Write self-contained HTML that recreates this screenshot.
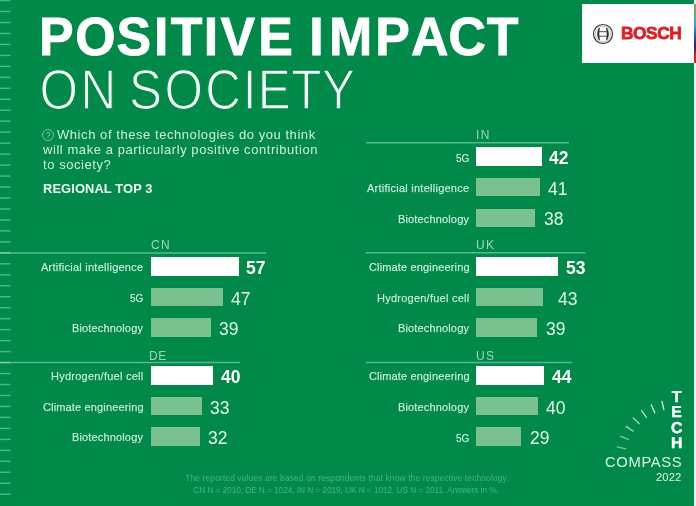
<!DOCTYPE html>
<html lang="en"><head><meta charset="utf-8"><title>Positive impact on society</title>
<style>
html,body{margin:0;padding:0}
body{width:696px;height:506px;overflow:hidden;background:#01894a;position:relative;font-family:"Liberation Sans",sans-serif;color:#fff}
.a{position:absolute;white-space:nowrap;line-height:1;will-change:transform}
.t1{left:38.6px;top:8.5px;font-size:49px;font-weight:700;letter-spacing:1.6px;word-spacing:-6.5px;transform-origin:0 0;transform:scale(1.085,1.11)}
.t2{left:40px;top:60.9px;font-size:48px;font-weight:400;letter-spacing:2.2px;-webkit-text-stroke:1.7px #01894a;transform-origin:0 0;transform:scale(1,1.19)}
.q{left:43px;top:127.0px;font-size:13px;line-height:15px;letter-spacing:.56px;color:rgba(240,255,247,.86);white-space:normal;width:300px}
.q .ind{display:inline-block;width:14px}
.qi{left:41.9px;top:129.2px;width:10.1px;height:10.1px;border:1.05px solid rgba(190,255,220,.55);border-radius:50%;font-size:8.6px;line-height:10.4px;text-align:center;color:rgba(200,255,225,.6)}
.rt{left:43px;top:183.0px;font-size:12.9px;font-weight:700;letter-spacing:.1px;color:#f2fbf5}
.cc{font-size:12px;letter-spacing:1.4px;color:rgba(255,255,255,.62)}
.ln{position:absolute;height:1.6px;background:rgba(205,255,228,.4)}
.lb{font-size:11px;letter-spacing:.15px;color:rgba(235,255,245,.84);-webkit-text-stroke:.25px rgba(235,255,245,.5);text-align:right}
.lb.s{font-size:10px;letter-spacing:0}
.bar{position:absolute;height:18.3px;background:#7ac18f}
.bar.w{background:#fff}
.v{font-size:17.5px;color:#e2f6ea}
.v.b{font-weight:700;color:#fff}
.ft{font-size:8.4px;color:rgba(200,255,222,.34);text-align:center;letter-spacing:.05px}
.logo{position:absolute;left:582px;top:4px;width:112.4px;height:59.4px;background:#fff}
.edge{position:absolute;left:694.35px;top:0;width:1.65px;height:506px;background:#e8faf1}
.strip{position:absolute;left:694.35px;top:4px;width:1.65px;height:59.4px;background:linear-gradient(#7aa873 0,#6fa873 17%,#45b5aa 24%,#2aa3d2 37%,#1f62b2 52%,#2a2366 70%,#7a2044 80%,#d02030 87%,#d8222a 100%)}
.bosch{left:621.4px;top:25.1px;font-size:17.3px;font-weight:700;color:#dc1f26;letter-spacing:-.42px;-webkit-text-stroke:.8px #dc1f26}
.tech{text-rendering:geometricPrecision;font-size:15.8px;font-weight:700;color:#fff;text-align:center;width:16px}
.comp{left:605.4px;top:455.0px;font-size:14.8px;letter-spacing:.62px;color:#dcf3e6}
.yr{left:656.4px;top:472.0px;font-size:11.2px;letter-spacing:.1px;color:#dcf3e6}

</style></head><body>
<svg class="a" style="left:0;top:0" width="12" height="506" viewBox="0 0 12 506">
<g stroke="#c8ffe0" stroke-opacity=".38" stroke-width="1.5">
<line x1="0" y1="0.55" x2="10.5" y2="0.55"/>
<line x1="0" y1="11.52" x2="10.5" y2="11.52"/>
<line x1="0" y1="22.49" x2="10.5" y2="22.49"/>
<line x1="0" y1="33.46" x2="10.5" y2="33.46"/>
<line x1="0" y1="44.43" x2="10.5" y2="44.43"/>
<line x1="0" y1="55.40" x2="10.5" y2="55.40"/>
<line x1="0" y1="66.37" x2="10.5" y2="66.37"/>
<line x1="0" y1="77.34" x2="10.5" y2="77.34"/>
<line x1="0" y1="88.31" x2="10.5" y2="88.31"/>
<line x1="0" y1="99.28" x2="10.5" y2="99.28"/>
<line x1="0" y1="110.25" x2="10.5" y2="110.25"/>
<line x1="0" y1="121.22" x2="10.5" y2="121.22"/>
<line x1="0" y1="132.19" x2="10.5" y2="132.19"/>
<line x1="0" y1="143.16" x2="10.5" y2="143.16"/>
<line x1="0" y1="154.13" x2="10.5" y2="154.13"/>
<line x1="0" y1="165.10" x2="10.5" y2="165.10"/>
<line x1="0" y1="176.07" x2="10.5" y2="176.07"/>
<line x1="0" y1="187.04" x2="10.5" y2="187.04"/>
<line x1="0" y1="198.01" x2="10.5" y2="198.01"/>
<line x1="0" y1="208.98" x2="10.5" y2="208.98"/>
<line x1="0" y1="219.95" x2="10.5" y2="219.95"/>
<line x1="0" y1="230.92" x2="10.5" y2="230.92"/>
<line x1="0" y1="241.89" x2="10.5" y2="241.89"/>
<line x1="0" y1="252.86" x2="10.5" y2="252.86"/>
<line x1="0" y1="263.83" x2="10.5" y2="263.83"/>
<line x1="0" y1="274.80" x2="10.5" y2="274.80"/>
<line x1="0" y1="285.77" x2="10.5" y2="285.77"/>
<line x1="0" y1="296.74" x2="10.5" y2="296.74"/>
<line x1="0" y1="307.71" x2="10.5" y2="307.71"/>
<line x1="0" y1="318.68" x2="10.5" y2="318.68"/>
<line x1="0" y1="329.65" x2="10.5" y2="329.65"/>
<line x1="0" y1="340.62" x2="10.5" y2="340.62"/>
<line x1="0" y1="351.59" x2="10.5" y2="351.59"/>
<line x1="0" y1="362.56" x2="10.5" y2="362.56"/>
<line x1="0" y1="373.53" x2="10.5" y2="373.53"/>
<line x1="0" y1="384.50" x2="10.5" y2="384.50"/>
<line x1="0" y1="395.47" x2="10.5" y2="395.47"/>
<line x1="0" y1="406.44" x2="10.5" y2="406.44"/>
<line x1="0" y1="417.41" x2="10.5" y2="417.41"/>
<line x1="0" y1="428.38" x2="10.5" y2="428.38"/>
<line x1="0" y1="439.35" x2="10.5" y2="439.35"/>
<line x1="0" y1="450.32" x2="10.5" y2="450.32"/>
<line x1="0" y1="461.29" x2="10.5" y2="461.29"/>
<line x1="0" y1="472.26" x2="10.5" y2="472.26"/>
<line x1="0" y1="483.23" x2="10.5" y2="483.23"/>
<line x1="0" y1="494.20" x2="10.5" y2="494.20"/>
</g></svg>
<svg class="a" style="left:0;top:0" width="560" height="120" viewBox="0 0 560 120" font-family="Liberation Sans, sans-serif">
<text transform="translate(0,55) scale(1.06,1.10)" text-rendering="geometricPrecision" x="36.9 70.9 109.9 145.3 161.0 192.3 208.0 243.6 273.6 291.7 310.3 354.1 387.8 423.1 459.2" y="0" font-size="49" font-weight="700" fill="#fff" stroke="#fff" stroke-width="0.7">POSITIVE IMPACT</text>
<text transform="translate(0,109) scale(1.03,1.176)" text-rendering="geometricPrecision" x="38.3 78.1 110.7 125.2 159.8 199.2 235.6 250.3 282.7 312.6" y="0" font-size="48" fill="#f4fff9" stroke="#01894a" stroke-width="1.1">ON SOCIETY</text>
</svg>
<div class="a qi">?</div>
<div class="a q"><span class="ind"></span>Which of these technologies do you think<br>will make a particularly positive contribution<br>to society?</div>
<div class="a rt">REGIONAL TOP 3</div>
<div class="a cc" style="left:150.7px;top:238.8px">CN</div>
<div class="a lb" style="right:552.7px;top:262.2px;letter-spacing:.25px">Artificial intelligence</div>
<div class="bar w" style="left:150.7px;top:257.3px;width:88.1px"></div>
<div class="a v b" style="left:246.4px;top:260.1px">57</div>
<div class="a lb s" style="right:552.7px;top:294.0px">5G</div>
<div class="bar" style="left:150.7px;top:287.9px;width:72.4px"></div>
<div class="a v" style="left:231.3px;top:290.7px">47</div>
<div class="a lb" style="right:552.7px;top:323.3px">Biotechnology</div>
<div class="bar" style="left:150.7px;top:318.4px;width:60.3px"></div>
<div class="a v" style="left:218.9px;top:321.2px">39</div>
<div class="a cc" style="left:149.1px;top:349.6px;letter-spacing:.7px">DE</div>
<div class="a lb" style="right:552.7px;top:371.3px;letter-spacing:.24px">Hydrogen/fuel cell</div>
<div class="bar w" style="left:150.7px;top:366.4px;width:62.2px"></div>
<div class="a v b" style="left:220.7px;top:369.2px">40</div>
<div class="a lb" style="right:552.7px;top:401.8px">Climate engineering</div>
<div class="bar" style="left:150.7px;top:396.9px;width:51.2px"></div>
<div class="a v" style="left:209.5px;top:399.7px">33</div>
<div class="a lb" style="right:552.7px;top:432.3px">Biotechnology</div>
<div class="bar" style="left:150.7px;top:427.4px;width:49.2px"></div>
<div class="a v" style="left:207.8px;top:430.2px">32</div>
<div class="a cc" style="left:476.2px;top:128.8px">IN</div>
<div class="a lb s" style="right:226.7px;top:153.5px">5G</div>
<div class="bar w" style="left:476.2px;top:147.3px;width:65.4px"></div>
<div class="a v b" style="left:549.4px;top:150.1px">42</div>
<div class="a lb" style="right:226.7px;top:183.0px;letter-spacing:.25px">Artificial intelligence</div>
<div class="bar" style="left:476.2px;top:178.0px;width:63.7px"></div>
<div class="a v" style="left:548.4px;top:180.8px">41</div>
<div class="a lb" style="right:226.7px;top:213.6px">Biotechnology</div>
<div class="bar" style="left:476.2px;top:208.6px;width:59.2px"></div>
<div class="a v" style="left:543.6px;top:211.4px">38</div>
<div class="a cc" style="left:476.2px;top:238.8px">UK</div>
<div class="a lb" style="right:226.7px;top:262.2px">Climate engineering</div>
<div class="bar w" style="left:476.2px;top:257.3px;width:82.1px"></div>
<div class="a v b" style="left:565.5px;top:260.1px">53</div>
<div class="a lb" style="right:226.7px;top:292.9px;letter-spacing:.24px">Hydrogen/fuel cell</div>
<div class="bar" style="left:476.2px;top:288.0px;width:66.6px"></div>
<div class="a v" style="left:557.8px;top:290.8px">43</div>
<div class="a lb" style="right:226.7px;top:323.3px">Biotechnology</div>
<div class="bar" style="left:476.2px;top:318.4px;width:60.7px"></div>
<div class="a v" style="left:545.9px;top:321.2px">39</div>
<div class="a cc" style="left:476.2px;top:349.7px">US</div>
<div class="a lb" style="right:226.7px;top:371.3px">Climate engineering</div>
<div class="bar w" style="left:476.2px;top:366.4px;width:67.9px"></div>
<div class="a v b" style="left:552.2px;top:369.2px">44</div>
<div class="a lb" style="right:226.7px;top:401.8px">Biotechnology</div>
<div class="bar" style="left:476.2px;top:396.9px;width:62.3px"></div>
<div class="a v" style="left:546.3px;top:399.7px">40</div>
<div class="a lb s" style="right:226.7px;top:433.5px">5G</div>
<div class="bar" style="left:476.2px;top:427.4px;width:45.3px"></div>
<div class="a v" style="left:529.7px;top:430.2px">29</div>
<svg class="a" style="left:0;top:0" width="696" height="506" viewBox="0 0 696 506"><g stroke="#cdffe4" stroke-opacity=".42" stroke-width="1.5"><line x1="0" y1="252.90" x2="266" y2="252.90"/><line x1="0" y1="362.40" x2="240.3" y2="362.40"/><line x1="366" y1="142.70" x2="569" y2="142.70"/><line x1="366" y1="252.80" x2="585.5" y2="252.80"/><line x1="366" y1="362.40" x2="571.7" y2="362.40"/></g></svg>
<div class="a ft" style="left:147.3px;width:400px;top:473.8px;letter-spacing:.15px">The reported values are based on respondents that know the respective technology.</div>
<div class="a ft" style="left:146.4px;width:400px;top:486.3px;letter-spacing:-.1px">CN N = 2010, DE N = 1024, IN N = 2019, UK N = 1012, US N = 2011. Answers in %.</div>
<div class="edge"></div><div class="logo"></div><div class="strip"></div>
<svg class="a" style="left:591px;top:21.7px" width="24" height="24" viewBox="-12 -12 24 24">
<circle r="9.55" fill="none" stroke="#3a3a3a" stroke-width="1.15"/>
<circle r="7.7" fill="none" stroke="#8a8a8a" stroke-width=".55"/>
<path d="M-3.6,-6.1 Q-7.4,0 -3.6,6.1 Q-4.6,0 -3.6,-6.1 Z M3.6,-6.1 Q7.4,0 3.6,6.1 Q4.6,0 3.6,-6.1 Z" fill="#2e2e2e" stroke="#2e2e2e" stroke-width=".7" stroke-linejoin="round"/>
<path d="M-3.9,-2.3 H3.9 M-3.9,2.2 H3.9" fill="none" stroke="#3a3a3a" stroke-width=".9"/>
</svg>
<div class="a bosch">BOSCH</div>
<svg class="a" style="left:600px;top:390px" width="96" height="80" viewBox="600 390 96 80">
<g stroke="#fff" stroke-width="1.3" stroke-linecap="butt">
<line x1="616.87" y1="446.81" x2="626.15" y2="448.82" stroke-opacity="0.50"/>
<line x1="620.27" y1="436.06" x2="629.02" y2="439.75" stroke-opacity="0.56"/>
<line x1="625.61" y1="426.12" x2="633.52" y2="431.38" stroke-opacity="0.62"/>
<line x1="632.70" y1="417.35" x2="639.50" y2="423.98" stroke-opacity="0.68"/>
<line x1="641.30" y1="410.04" x2="646.75" y2="417.82" stroke-opacity="0.74"/>
<line x1="651.10" y1="404.46" x2="655.01" y2="413.12" stroke-opacity="0.80"/>
<line x1="661.77" y1="400.80" x2="664.01" y2="410.03" stroke-opacity="0.86"/>
</g></svg>
<svg class="a" style="left:660px;top:384px" width="34" height="70" viewBox="660 384 34 70"><text x="676.6 676.6 676.6 676.6" y="401.9 417.4 432.9 448.4" text-anchor="middle" font-family="Liberation Sans, sans-serif" font-size="15.8" font-weight="700" fill="#fff" stroke="#fff" stroke-width=".45" text-rendering="geometricPrecision">TECH</text></svg>
<div class="a comp">COMPASS</div>
<div class="a yr">2022</div>
</body></html>
